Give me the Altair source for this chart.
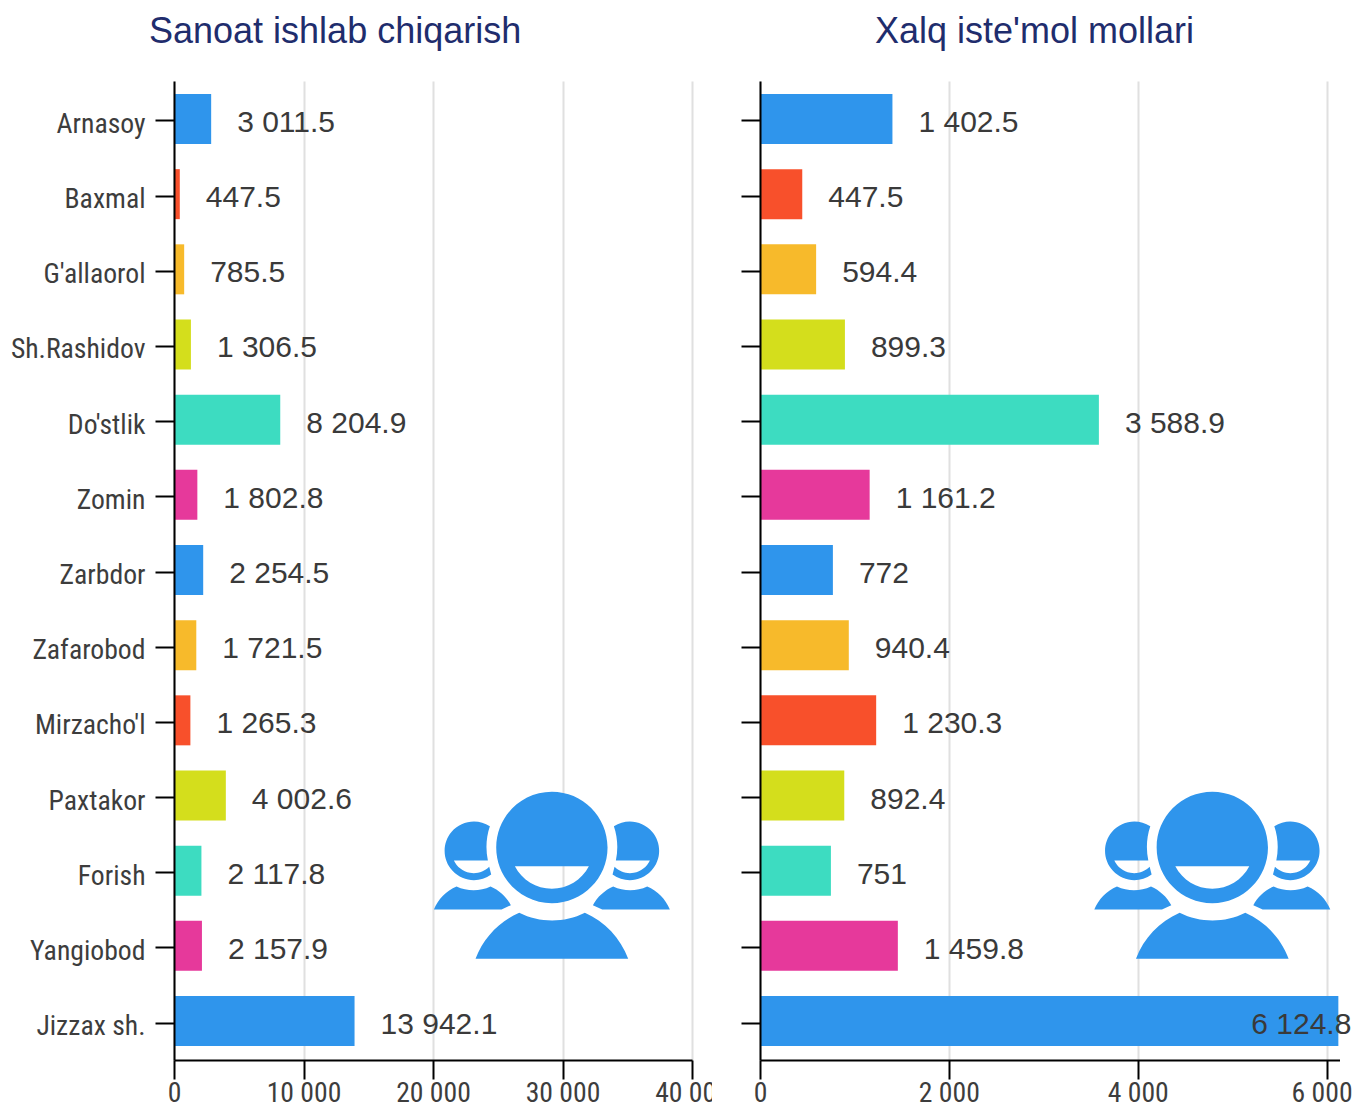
import altair as alt
import pandas as pd

categories = ["Arnasoy", "Baxmal", "G'allaorol", "Sh.Rashidov", "Do'stlik", "Zomin", "Zarbdor",
              "Zafarobod", "Mirzacho'l", "Paxtakor", "Forish", "Yangiobod", "Jizzax sh."]
colors = ["#2F95EC", "#F8502B", "#F7BA2B", "#D4DE1C", "#3DDCC1", "#E6399B", "#2F95EC",
          "#F7BA2B", "#F8502B", "#D4DE1C", "#3DDCC1", "#E6399B", "#2F95EC"]
left_values = [2870, 447.5, 785.5, 1306.5, 8204.9, 1802.8, 2254.5, 1721.5, 1265.3, 4002.6, 2117.8, 2157.9, 13942.1]
left_labels = ["3 011.5", "447.5", "785.5", "1 306.5", "8 204.9", "1 802.8", "2 254.5", "1 721.5",
               "1 265.3", "4 002.6", "2 117.8", "2 157.9", "13 942.1"]
right_values = [1402.5, 447.5, 594.4, 899.3, 3588.9, 1161.2, 772, 940.4, 1230.3, 892.4, 751, 1459.8, 6124.8]
right_labels = ["1 402.5", "447.5", "594.4", "899.3", "3 588.9", "1 161.2", "772", "940.4",
                "1 230.3", "892.4", "751", "1 459.8", "6 124.8"]
titles = ["Sanoat ishlab chiqarish", "Xalq iste'mol mollari"]
icon_row = "Forish"
icon_x = [29180, 4790]

# ---- people icon as one symbol path -------------------------------------
OX, OY, U = 396, 278, 360.0


def pt(x, y, mirror=False):
    if mirror:
        x = 2 * 396 - x
    return f"{(x - OX) / U:.4f} {(y - OY) / U:.4f}"


def arc(r, large, sweep, x, y, mirror=False):
    s = (1 - sweep) if mirror else sweep
    return f"A{r / U:.4f} {r / U:.4f} 0 {large} {s} {pt(x, y, mirror)}"


def small(m):
    head = ("M" + pt(210, 140, m) + arc(88, 1, 0, 214, 285, m) + "L" + pt(208, 262, m)
            + arc(66, 0, 1, 102, 243, m) + "L" + pt(204, 243, m) + arc(196, 0, 1, 210, 140, m) + "Z")
    body = ("M" + pt(42, 390, m) + "L" + pt(245, 390, m) + "L" + pt(273, 377, m)
            + arc(127, 0, 0, 212, 321, m) + arc(119, 0, 1, 110, 321, m) + arc(127, 0, 0, 42, 390, m) + "Z")
    return head + body


big = ("M" + pt(229, 204) + arc(167, 1, 1, 563, 204) + arc(167, 1, 1, 229, 204) + "Z"
       + "M" + pt(285, 260) + arc(125, 0, 0, 507, 260) + "Z"
       + "M" + pt(167, 538) + "L" + pt(625, 538) + arc(244, 0, 0, 495, 400)
       + arc(221, 0, 1, 298, 400) + arc(244, 0, 0, 167, 538) + "Z")
ICON = big + small(False) + small(True)
ICON_SIZE = (2 * U / 3) ** 2

LABEL_FONT = "Roboto Condensed, Roboto"
LABEL_SIZE = 27.7
NUM_EXPR = "replace(format(datum.value, ','), ',', ' ')"


def panel(values, labels, domain, ticks, width, title, title_dx, show_labels, ix, mask=False):
    df = pd.DataFrame({"cat": categories, "val": values, "label": labels, "color": colors})
    y_scale = alt.Scale(domain=categories, paddingInner=0.335, paddingOuter=0.1795)
    x_scale = alt.Scale(domain=domain, nice=False, zero=True)
    x = alt.X("val:Q", scale=x_scale, title=None,
              axis=alt.Axis(values=ticks, grid=True, gridColor="#E0E0E0", gridWidth=2,
                            domainColor="#000000", domainWidth=2, tickColor="#000000", tickWidth=2,
                            tickSize=19, labelFont=LABEL_FONT, labelFontSize=LABEL_SIZE, labelColor="#3d3d3d",
                            labelPadding=0, labelExpr=NUM_EXPR, labelFlush=False, labelOverlap=False,
                            labelBound=False, labelOffset=alt.expr("datum.value == 6000 ? -5 : 0"), zindex=0))
    y_axis = alt.Axis(domainColor="#000000", domainWidth=2, tickColor="#000000", tickWidth=2,
                      tickSize=19, tickOffset=1, labelFont=LABEL_FONT, labelFontSize=LABEL_SIZE,
                      labelColor="#3d3d3d", labelOffset=4,
                      labelPadding=10, labels=show_labels, grid=False, zindex=1)
    y = alt.Y("cat:N", sort=categories, scale=y_scale, title=None, axis=y_axis)

    bars = alt.Chart(df).mark_bar(size=50, yOffset=-0.5, clip=False).encode(
        x=x, y=y, color=alt.Color("color:N", scale=None))
    text_style = dict(font="Liberation Sans", fontSize=30, color="#3a3a3a", baseline="middle")
    normal = df[df["val"] / domain[1] < 0.95] if ix == 1 else df
    over = df[df["val"] / domain[1] >= 0.95] if ix == 1 else df.iloc[0:0]
    txt = alt.Chart(normal).mark_text(align="left", dx=26, dy=3.5, **text_style).encode(
        x=alt.X("val:Q", scale=x_scale), y=alt.Y("cat:N", sort=categories, scale=y_scale), text="label:N")
    layers = [bars, txt]
    if len(over):
        layers.append(alt.Chart(over).mark_text(align="right", dx=13, dy=3.5, **text_style).encode(
            x=alt.X("val:Q", scale=x_scale), y=alt.Y("cat:N", sort=categories, scale=y_scale), text="label:N"))
    icon_df = pd.DataFrame({"cat": [icon_row], "val": [icon_x[ix]]})
    layers.append(alt.Chart(icon_df).mark_point(shape=ICON, size=ICON_SIZE, filled=True, opacity=1,
                                                color="#2F95EC", strokeWidth=0, yOffset=1).encode(
        x=alt.X("val:Q", scale=x_scale), y=alt.Y("cat:N", sort=categories, scale=y_scale)))
    if mask:
        layers.append(alt.Chart(pd.DataFrame({"cat": [categories[-1]]})).mark_rect(color="#ffffff", clip=False).encode(
            x=alt.value(538), x2=alt.value(566), y=alt.value(985), y2=alt.value(1030)))
    return alt.layer(*layers).properties(
        width=width, height=979,
        title=alt.TitleParams(title, font="Liberation Sans", fontSize=36, fontWeight="normal", color="#1F2D6D",
                              anchor="start", frame="group", dx=title_dx, offset=30))


left = panel(left_values, left_labels, [0, 40000], [0, 10000, 20000, 30000, 40000], 518, titles[0], -25, True, 0, True)
right = panel(right_values, right_labels, [0, 6137], [0, 2000, 4000, 6000], 579.5, titles[1], 115, False, 1)

chart = (alt.hconcat(left, right, spacing=68, bounds="flush")
         .resolve_scale(x="independent")
         .configure_view(stroke=None)
         .properties(padding={"left": 2, "top": 6, "right": 0, "bottom": -4}, background="#ffffff"))

chart.save("out.html", embed_options={"renderer": "svg", "actions": False})
